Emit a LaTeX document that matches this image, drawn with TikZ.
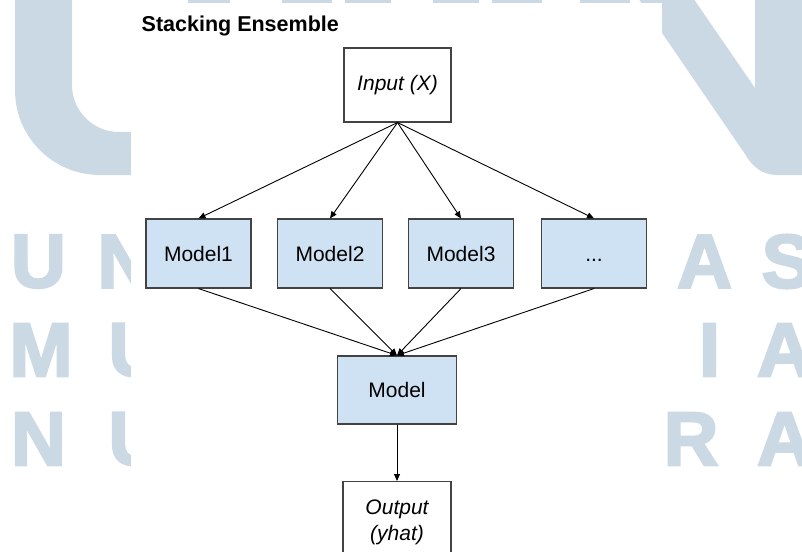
\documentclass[tikz,border=0pt]{standalone}
\usepackage{fontspec}
\setmainfont{Liberation Sans}
\newfontfamily\wmfont{Liberation Sans}[BoldFeatures={FakeBold=3}]
\usetikzlibrary{arrows.meta}
\definecolor{wm}{RGB}{203,217,228}
\definecolor{boxfill}{HTML}{CFE2F3}
\definecolor{boxline}{HTML}{434343}
\tikzset{
  wmletter/.style={inner sep=0pt, text=wm, font=\wmfont\bfseries\fontsize{76}{76}\selectfont},
  plainbox/.style={draw=boxline, line width=1.1pt, fill=white, inner sep=0pt,
    font=\fontsize{21}{26}\selectfont\itshape, align=center},
  modelbox/.style={draw=boxline, line width=1.1pt, fill=boxfill, inner sep=0pt,
    minimum width=105pt, minimum height=69pt, text height=15.3pt, text depth=0pt,
    font=\fontsize{21}{26}\selectfont},
  edge/.style={draw=black, line width=0.9pt, -{Triangle[length=7pt,width=6pt]}}
}
\begin{document}
\begin{tikzpicture}[x=1pt,y=-1pt]
  \clip (0,0) rectangle (802,551);
  \fill[white] (0,0) rectangle (802,551);

  % background logo: large U on the left
  \fill[wm] (15,-5) -- (15,90) .. controls (15,137) and (53,175) .. (100,175)
    -- (140,175) -- (140,132) -- (119,132)
    .. controls (93,132) and (72,111) .. (72,85) -- (72,-5) -- cycle;
  % background logo: large N on the right
  \fill[wm] (636,-5) -- (745,154) .. controls (752,166) and (762,175) .. (777,175)
    -- (812,175) -- (812,-5) -- (755,-5) -- (755,88) -- (691,-5) -- cycle;
  % lower ends of the upper lettering
  \foreach \a/\b in {188/230, 282/332, 345/391, 433/479, 492/542, 580/630}
    \fill[wm] (\a,-1) rectangle (\b,3);
  % spaced lettering
  \node[wmletter] (wu1) at (38.5,261.5) {U};
  \node[wmletter] (wn1) at (125,261.5) {N};
  \node[wmletter] (wa1) at (704.5,261.5) {A};
  \node[wmletter] (ws1) at (787,261.5) {S};
  \node[wmletter] (wm2) at (41,350) {M};
  \node[wmletter] (wu2) at (136,350) {U};
  \node[wmletter] (wi2) at (709.5,350) {I};
  \node[wmletter] (wa2) at (784.5,350) {A};
  \node[wmletter] (wn3) at (38.5,439) {N};
  \node[wmletter] (wu3) at (136,439) {U};
  \node[wmletter] (wr3) at (691,439) {R};
  \node[wmletter] (wa3) at (784.5,439) {A};

  % diagram sheet
  \fill[white] (131,3) rectangle (662,560);

  \node[anchor=base west, inner sep=0pt, font=\fontsize{21.5}{26}\selectfont\bfseries]
    (title) at (141.5,31.5) {Stacking Ensemble};

  \node[plainbox, minimum width=107pt, minimum height=74pt] (in) at (397.5,85) {Input (X)};

  \node[modelbox] (m1) at (198.5,253.5) {Model1};
  \node[modelbox] (m2) at (330,253.5) {Model2};
  \node[modelbox] (m3) at (461,253.5) {Model3};
  \node[modelbox] (m4) at (594,253.5) {...};

  \node[modelbox, minimum width=119pt, minimum height=68pt] (meta) at (397,390) {Model};

  \node[plainbox, anchor=north, minimum width=108pt, minimum height=82pt] (out) at (397,481)
    {Output\\(yhat)};

  \foreach \m in {m1,m2,m3,m4} {
    \draw[edge] (in.south) -- (\m.north);
    \draw[edge] (\m.south) -- (meta.north);
  }
  \draw[edge] (meta.south) -- (out.north);
\end{tikzpicture}
\end{document}
